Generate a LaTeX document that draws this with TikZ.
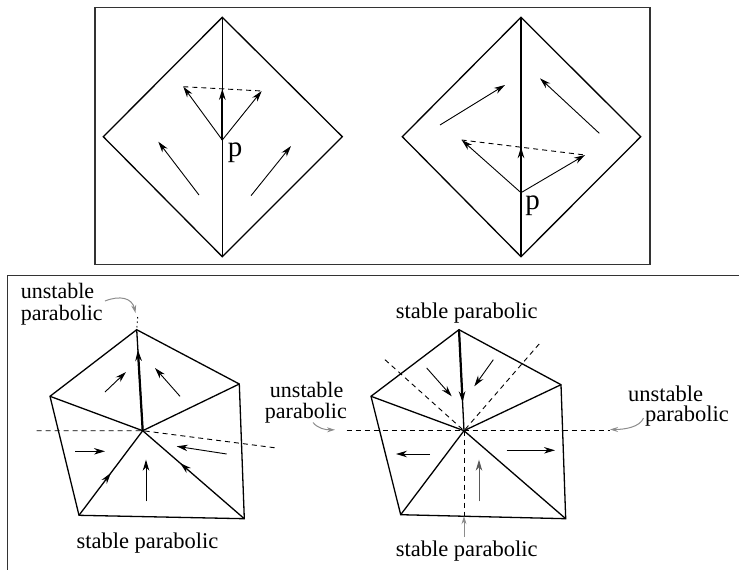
\documentclass[tikz,border=0pt]{standalone}
\usepackage{fontspec}
\setmainfont{Liberation Serif}
\usetikzlibrary{arrows.meta,decorations.markings,calc}
\definecolor{ptr}{gray}{0.55}
\definecolor{dimvec}{gray}{0.35}
\begin{document}
\begin{tikzpicture}[x=1pt,y=-1pt,
  frame/.style={line width=1.1pt, draw=black!80},
  edge/.style={line width=1.3pt},
  vec/.style={line width=0.9pt,-{Stealth[length=11pt,width=6.5pt,inset=3.5pt]}},
  bvec/.style={line width=2.2pt,-{Stealth[length=11pt,width=6.5pt,inset=3.5pt]}},
  guide/.style={line width=0.9pt, dash pattern=on 5pt off 4pt},
  dots/.style={line width=0.9pt, dash pattern=on 1.5pt off 3pt},
  pointer/.style={ptr, line width=1pt, -{Stealth[length=8pt,width=5pt]}},
  midarrow/.style={postaction={decorate}, decoration={markings, mark=at position #1 with {\arrow{Stealth[length=11pt,width=6.5pt,inset=3.5pt]}}}},
  lbl/.style={font=\fontsize{22.5}{20}\selectfont, inner sep=0pt},
  lbl2/.style={font=\fontsize{22}{21.5}\selectfont, inner sep=0pt},
  plbl/.style={font=\fontsize{29}{30}\selectfont, inner sep=0pt}]
\useasboundingbox (0,0) rectangle (739,570);

% frames
\draw[frame] (95,7.5) rectangle (650,264.7);
\draw[frame] (7.5,570) -- (7.5,275.5) -- (739,275.5);

% ---------- top-left diamond ----------
\coordinate (aT) at (222.3,17.3);
\coordinate (aB) at (222.3,256.7);
\coordinate (aL) at (103.3,136.7);
\coordinate (aR) at (342.3,136.7);
\draw[edge] (aT) -- (aR) -- (aB) -- (aL) -- cycle;
\draw[edge] (aT) -- (aB);
\coordinate (ap) at (222.3,140);
\coordinate (aq1) at (183.3,86.7);
\coordinate (aq2) at (261.7,91);
\coordinate (aq0) at (222.3,88.8);
\draw[guide] (aq1) -- (aq2);
\draw[vec] (ap) -- (aq1);
\draw[vec] (ap) -- (aq2);
\draw[bvec] (ap) -- (aq0);
\node[plbl] (apl) at (235,153) {p};
\coordinate (al0) at (199,195);   \coordinate (al1) at (158.3,141.7);
\coordinate (ar0) at (251,195.7); \coordinate (ar1) at (291,146);
\draw[vec] (al0) -- (al1);
\draw[vec] (ar0) -- (ar1);

% ---------- top-right diamond ----------
\coordinate (dT) at (521,17.3);
\coordinate (dB) at (521,256.7);
\coordinate (dL) at (402.3,136.7);
\coordinate (dR) at (640.7,136.7);
\draw[edge] (dT) -- (dR) -- (dB) -- (dL) -- cycle;
\draw[edge] (dT) -- (dB);
\coordinate (dp) at (521,192.7);
\coordinate (dq1) at (461.7,140);
\coordinate (dq2) at (585,155);
\coordinate (dq0) at (521,147);
\draw[guide] (dq1) -- (dq2);
\draw[vec] (dp) -- (dq1);
\draw[vec] (dp) -- (dq2);
\draw[bvec] (dp) -- (dq0);
\node[plbl] (dpl) at (532.5,205.5) {p};
\coordinate (dl0) at (440,125);   \coordinate (dl1) at (505,85);
\coordinate (dr0) at (599.3,133.3); \coordinate (dr1) at (540,78.3);
\draw[vec] (dl0) -- (dl1);
\draw[vec] (dr0) -- (dr1);

% ---------- bottom-left pentagon ----------
\coordinate (bT) at (136.7,329.7);
\coordinate (bUR) at (239.3,384);
\coordinate (bUL) at (50,396.3);
\coordinate (bBL) at (79,515.3);
\coordinate (bBR) at (244.3,518.7);
\coordinate (bC) at (142.7,430.7);
\coordinate (bgl) at (36.7,430.7);
\coordinate (bgr) at (276.7,448);
\coordinate (bdot) at (137.7,317);
\draw[guide] (bgl) -- (bC) -- (bgr);
\draw[dots] (bdot) -- (bT);
\draw[edge] (bT) -- (bUR) -- (bBR) -- (bBL) -- (bUL) -- cycle;
\draw[edge] (bC) -- (bT);
\draw[edge] (bC) -- (bUR);
\draw[edge] (bC) -- (bUL);
\draw[edge, midarrow=0.5] (bBL) -- (bC);
\draw[edge, midarrow=0.63] (bBR) -- (bC);
\draw[bvec] (bC) -- ($(bC)!0.8!(bT)$);
\coordinate (b1a) at (105,392);    \coordinate (b1b) at (126,372);
\coordinate (b2a) at (180,396.3);  \coordinate (b2b) at (155,368);
\coordinate (b3a) at (75,451.3);   \coordinate (b3b) at (105,451.3);
\coordinate (b4a) at (226.7,454);  \coordinate (b4b) at (176.7,446.3);
\coordinate (b5a) at (146,501.3);  \coordinate (b5b) at (146,459.7);
\draw[vec] (b1a) -- (b1b);
\draw[vec] (b2a) -- (b2b);
\draw[vec] (b3a) -- (b3b);
\draw[vec] (b4a) -- (b4b);
\draw[vec] (b5a) -- (b5b);
\node[lbl2, align=left, anchor=north west] (bu) at (20.7,283.5) {unstable\\parabolic};
\node[lbl, anchor=base] (bs) at (147.5,548) {stable parabolic};
\coordinate (bps) at (105,301);
\coordinate (bpe) at (135.5,313);
\draw[pointer] (bps) .. controls (120,295) and (132,298) .. (bpe);

% ---------- bottom-right pentagon ----------
\coordinate (cT) at (459,329.7);
\coordinate (cUR) at (561,384.7);
\coordinate (cUL) at (371,396.3);
\coordinate (cBL) at (400.7,514.7);
\coordinate (cBR) at (565.7,518.7);
\coordinate (cC) at (464,430.7);
\coordinate (cgl) at (346.7,430.7);
\coordinate (cgr) at (610,430.7);
\coordinate (cgd) at (464,516.2);
\coordinate (cgul) at (385,359.7);
\coordinate (cgur) at (540,343);
\draw[guide] (cgl) -- (cgr);
\draw[guide] (cC) -- (cgd);
\draw[guide] (cgul) -- (cC) -- (cgur);
\draw[edge] (cT) -- (cUR) -- (cBR) -- (cBL) -- (cUL) -- cycle;
\draw[edge] (cC) -- (cT);
\draw[edge] (cC) -- (cUR);
\draw[edge] (cC) -- (cUL);
\draw[edge] (cC) -- (cBL);
\draw[edge] (cC) -- (cBR);
\draw[bvec] (cT) -- ($(cT)!0.72!(cC)$);
\coordinate (c1a) at (426.7,368);  \coordinate (c1b) at (451.7,396.3);
\coordinate (c2a) at (493.3,359.7);\coordinate (c2b) at (474.3,386.3);
\coordinate (c3a) at (430,454);    \coordinate (c3b) at (396,454);
\coordinate (c4a) at (506.7,450.3);\coordinate (c4b) at (555,450.3);
\coordinate (c5a) at (479,501.3);  \coordinate (c5b) at (479,459.7);
\draw[vec] (c1a) -- (c1b);
\draw[vec] (c2a) -- (c2b);
\draw[vec] (c3a) -- (c3b);
\draw[vec] (c4a) -- (c4b);
\draw[vec, dimvec] (c5a) -- (c5b);
\node[lbl, anchor=base] (cst) at (466.7,318) {stable parabolic};
\node[lbl, anchor=base] (csb) at (466.7,556.3) {stable parabolic};
\node[lbl, align=left, anchor=north west] (cr) at (628,385.5) {unstable\\\hspace*{17pt}parabolic};
\node[lbl2, align=right, anchor=north east] (cl) at (347,382) {unstable\hspace*{3.5pt}\\parabolic};
\coordinate (cpb0) at (464,537);
\draw[pointer] (cpb0) -- (cgd);
\coordinate (cpr0) at (643.5,418);
\coordinate (cpr1) at (610,429.5);
\draw[pointer] (cpr0) .. controls (640,427) and (625,429.5) .. (cpr1);
\coordinate (cpl0) at (313,422.5);
\coordinate (cpl1) at (335,429.8);
\draw[pointer] (cpl0) .. controls (318,428.5) and (325,429.8) .. (cpl1);
\end{tikzpicture}
\end{document}
